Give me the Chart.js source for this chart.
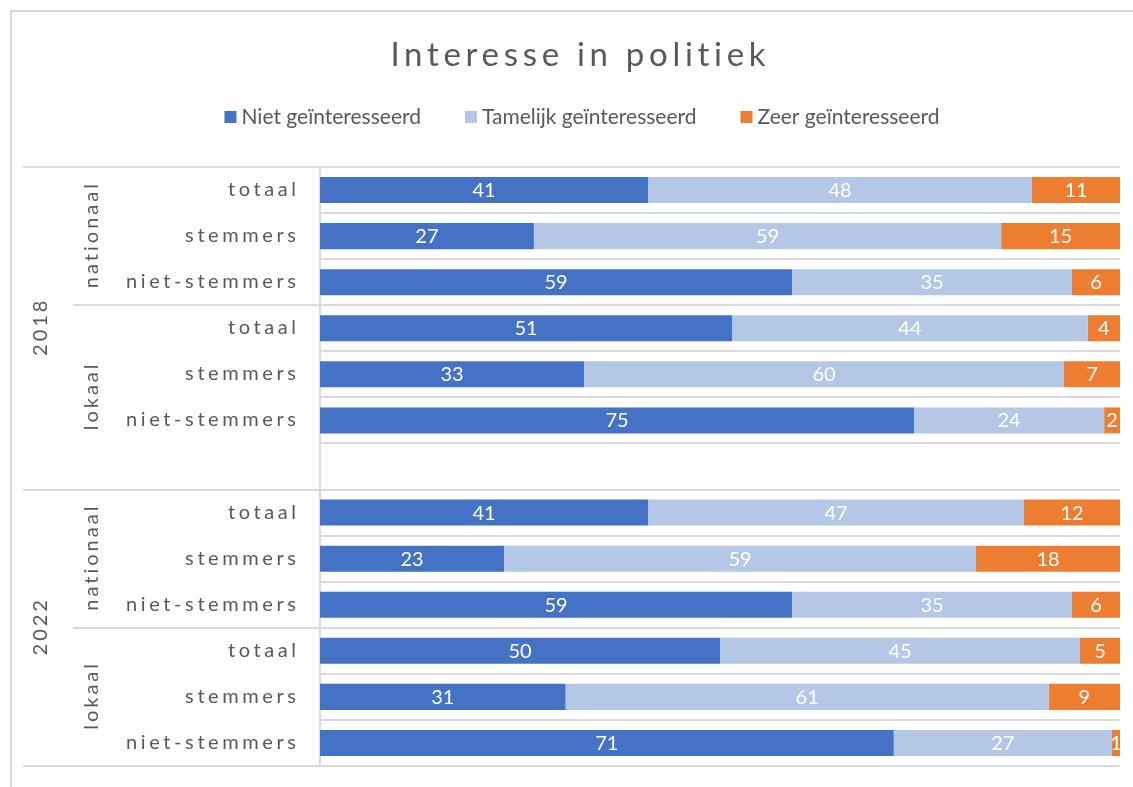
<!DOCTYPE html>
<html>
<head>
<meta charset="utf-8">
<script src="https://cdn.jsdelivr.net/npm/chart.js@4"></script>
<style>
html,body{margin:0;padding:0;background:#fff;overflow:hidden;width:1133px;height:787px}
#frame{position:absolute;left:10px;top:10px;width:1300px;height:900px;border-left:2px solid #d9d9d9;border-top:2px solid #d9d9d9;box-sizing:border-box}
#c{position:absolute;left:0;top:0}
</style>
</head>
<body>
<div id="frame"></div>
<canvas id="c" width="1133" height="787"></canvas>
<script>
// ---- data ----
const chartTitle = 'Interesse in politiek';
const categories = ['totaal','stemmers','niet-stemmers','totaal','stemmers','niet-stemmers','',
                    'totaal','stemmers','niet-stemmers','totaal','stemmers','niet-stemmers'];
const typeLabels = ['nationaal','lokaal','nationaal','lokaal'];
const typeSpans  = [3, 4, 3, 3];
const yearLabels = ['2018','2022'];
const yearSpans  = [7, 6];
const seriesNames = ['Niet geïnteresseerd','Tamelijk geïnteresseerd','Zeer geïnteresseerd'];
const nietValues     = [41, 27, 59, 51, 33, 75, null, 41, 23, 59, 50, 31, 71];
const tamelijkValues = [48, 59, 35, 44, 60, 24, null, 47, 59, 35, 45, 61, 27];
const zeerValues     = [11, 15,  6,  4,  7,  2, null, 12, 18,  6,  5,  9,  1];
const seriesColors = ['#4472C4','#B4C7E7','#ED7D31'];

// 100% stacked: normalise each row
const rawSeries = [nietValues, tamelijkValues, zeerValues];
const rowTotals = categories.map((_, i) => rawSeries.reduce((s, arr) => s + (arr[i] || 0), 0));
const pctSeries = rawSeries.map(arr => arr.map((v, i) => v == null ? null : v / rowTotals[i] * 100));

const FONT = 'Lato, "Open Sans", sans-serif';
const TEXT = '#595959';
const GRID = '#d9d9d9';

const decor = {
  id: 'decor',
  afterDatasetsDraw(chart) {
    const ctx = chart.ctx;
    ctx.save();
    ctx.font = '20px ' + FONT;
    ctx.fillStyle = '#ffffff';
    ctx.textAlign = 'center';
    ctx.textBaseline = 'alphabetic';
    chart.data.datasets.forEach((ds, di) => {
      const meta = chart.getDatasetMeta(di);
      meta.data.forEach((bar, i) => {
        const raw = rawSeries[di][i];
        if (raw == null) return;
        const cx = (bar.x + bar.base) / 2;
        ctx.fillText(String(raw), cx, bar.y + 7);
      });
    });
    ctx.restore();
  },
  afterDraw(chart) {
    const ctx = chart.ctx;
    const y = chart.scales.y;
    const area = chart.chartArea;
    const step = y.getPixelForValue(1) - y.getPixelForValue(0);
    const edge = i => y.getPixelForValue(i) - step / 2;
    ctx.save();
    // separators
    ctx.strokeStyle = GRID;
    ctx.lineWidth = 2;
    let idx = 0;
    typeSpans.forEach(s => {
      [idx, idx + s].forEach(b => {
        const py = Math.round(edge(b));
        ctx.beginPath(); ctx.moveTo(73, py); ctx.lineTo(area.left, py); ctx.stroke();
      });
      idx += s;
    });
    idx = 0;
    yearSpans.forEach(s => {
      [idx, idx + s].forEach(b => {
        const py = Math.round(edge(b));
        ctx.beginPath(); ctx.moveTo(23, py); ctx.lineTo(area.left, py); ctx.stroke();
      });
      idx += s;
    });
    // category labels
    const LS = 3.6;
    ctx.fillStyle = TEXT;
    ctx.font = '20px ' + FONT;
    ctx.letterSpacing = LS + 'px';
    ctx.textAlign = 'right';
    ctx.textBaseline = 'alphabetic';
    categories.forEach((c, i) => {
      if (!c) return;
      ctx.fillText(c, 296 + LS, y.getPixelForValue(i) + 6);
    });
    // rotated group labels
    const GLS = 3;
    ctx.letterSpacing = GLS + 'px';
    const rot = (text, x, yc) => {
      ctx.save();
      ctx.translate(x, yc);
      ctx.rotate(-Math.PI / 2);
      ctx.textAlign = 'center';
      ctx.fillText(text, GLS / 2, 0);
      ctx.restore();
    };
    idx = 0;
    typeSpans.forEach((s, k) => {
      rot(typeLabels[k], 98, (edge(idx) + edge(idx + s)) / 2);
      idx += s;
    });
    idx = 0;
    yearSpans.forEach((s, k) => {
      rot(yearLabels[k], 47, (edge(idx) + edge(idx + s)) / 2);
      idx += s;
    });
    // title
    const TLS = 4.7;
    ctx.font = '33px ' + FONT;
    ctx.letterSpacing = TLS + 'px';
    ctx.textAlign = 'center';
    ctx.fillText(chartTitle, 578 + TLS / 2, 66);
    // legend
    ctx.letterSpacing = '0px';
    ctx.font = '21px ' + FONT;
    ctx.textAlign = 'left';
    const box = 12, gapText = 5, gapItem = 44;
    const widths = chart.data.datasets.map(ds => box + gapText + ctx.measureText(ds.label).width);
    const total = widths.reduce((a, b) => a + b, 0) + gapItem * (widths.length - 1);
    let lx = 582 - total / 2;
    chart.data.datasets.forEach((ds, k) => {
      ctx.fillStyle = ds.backgroundColor;
      ctx.fillRect(lx, 111, box, box);
      ctx.fillStyle = TEXT;
      ctx.fillText(ds.label, lx + box + gapText, 124);
      lx += widths[k] + gapItem;
    });
    ctx.restore();
  }
};

new Chart(document.getElementById('c'), {
  type: 'bar',
  data: {
    labels: categories,
    datasets: seriesNames.map((n, k) => ({
      label: n,
      data: pctSeries[k],
      backgroundColor: seriesColors[k],
      borderWidth: 0,
      barPercentage: 1,
      categoryPercentage: 0.565
    }))
  },
  options: {
    indexAxis: 'y',
    responsive: false,
    animation: false,
    devicePixelRatio: 1,
    layout: { padding: { left: 0, right: 13, top: 167, bottom: 21 } },
    plugins: { legend: { display: false }, title: { display: false }, tooltip: { enabled: false } },
    scales: {
      x: { stacked: true, min: 0, max: 100, display: false },
      y: {
        stacked: true,
        ticks: { display: false },
        grid: { color: GRID, lineWidth: 2, drawTicks: false, offset: true },
        border: { display: true, color: GRID, width: 2 },
        afterFit(scale) { scale.width = 320; }
      }
    }
  },
  plugins: [decor]
});
</script>
</body>
</html>
